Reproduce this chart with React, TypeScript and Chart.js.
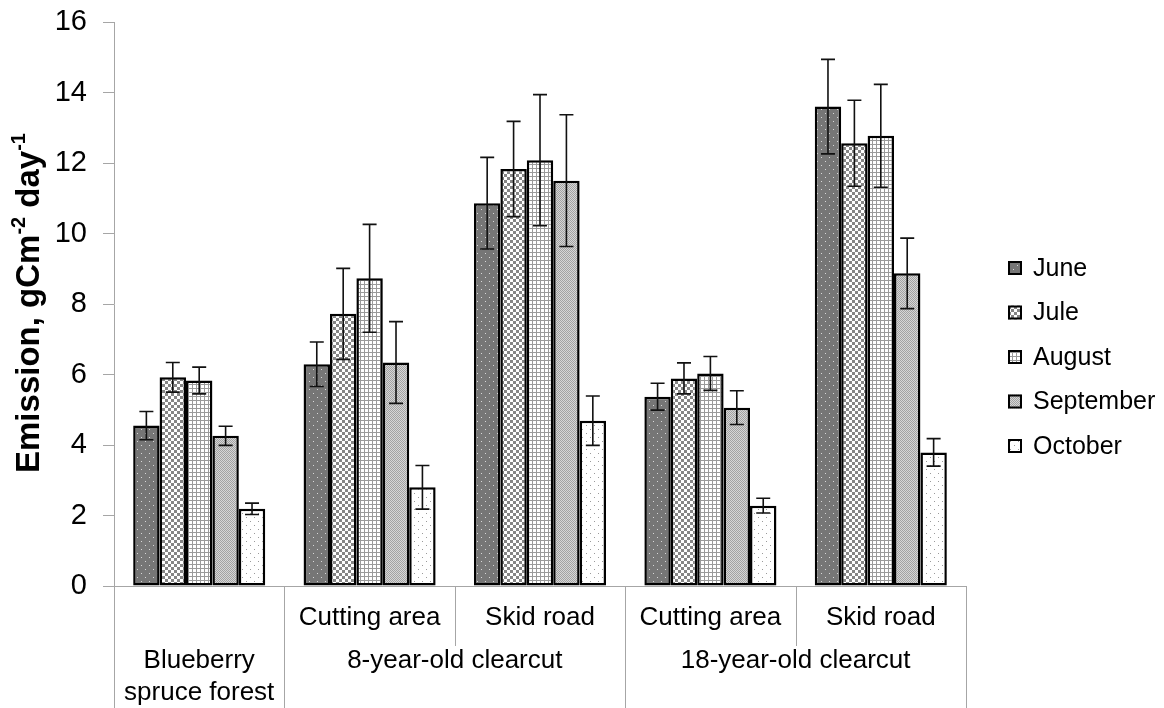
import React, { useEffect, useRef } from "react";
import { Chart, registerables } from "chart.js";
Chart.register(...registerables);

const categories = ["Blueberry spruce forest", "8y Cutting area", "8y Skid road", "18y Cutting area", "18y Skid road"];
const subLabels = ["", "Cutting area", "Skid road", "Cutting area", "Skid road"];
const groupNames = [["Blueberry", "spruce forest"], ["8-year-old clearcut"], ["18-year-old clearcut"]];
const groupFrom = [0, 1, 3];
const groupTo = [0, 2, 4];
const months = ["June", "Jule", "August", "September", "October"];
const juneValues = [4.55, 6.29, 10.86, 5.37, 13.6];
const juneErrors = [0.4, 0.63, 1.3, 0.38, 1.34];
const juleValues = [5.92, 7.72, 11.83, 5.89, 12.56];
const juleErrors = [0.42, 1.29, 1.35, 0.44, 1.22];
const augustValues = [5.83, 8.73, 12.08, 6.03, 12.77];
const augustErrors = [0.38, 1.53, 1.86, 0.48, 1.46];
const septemberValues = [4.26, 6.34, 11.5, 5.06, 8.87];
const septemberErrors = [0.27, 1.16, 1.87, 0.48, 1.0];
const octoberValues = [2.19, 2.8, 4.69, 2.28, 3.79];
const octoberErrors = [0.16, 0.62, 0.7, 0.21, 0.39];
const yMin = 0;
const yMax = 16;
const yStep = 2;

const FONT = "'Liberation Sans', Arial, sans-serif";

function makePattern(kind: string): CanvasPattern | string {
  const c = document.createElement("canvas");
  const ctx = c.getContext("2d")!;
  if (kind === "june") {
    c.width = 8; c.height = 8;
    ctx.fillStyle = "#767676"; ctx.fillRect(0, 0, 8, 8);
    ctx.fillStyle = "#d8d8d8";
    ctx.fillRect(1, 1, 1, 1); ctx.fillRect(5, 5, 1, 1);
  } else if (kind === "jule") {
    c.width = 6; c.height = 6;
    ctx.fillStyle = "#ffffff"; ctx.fillRect(0, 0, 6, 6);
    ctx.fillStyle = "#858585";
    ctx.fillRect(0, 0, 3, 3); ctx.fillRect(3, 3, 3, 3);
  } else if (kind === "august") {
    c.width = 4; c.height = 4;
    ctx.fillStyle = "#ffffff"; ctx.fillRect(0, 0, 4, 4);
    ctx.fillStyle = "#9a9a9a";
    ctx.fillRect(0, 0, 4, 1); ctx.fillRect(0, 0, 1, 4);
  } else if (kind === "september") {
    c.width = 2; c.height = 2;
    ctx.fillStyle = "#d6d6d6"; ctx.fillRect(0, 0, 2, 2);
    ctx.fillStyle = "#a2a2a2";
    ctx.fillRect(0, 0, 1, 1); ctx.fillRect(1, 1, 1, 1);
  } else {
    c.width = 8; c.height = 8;
    ctx.fillStyle = "#ffffff"; ctx.fillRect(0, 0, 8, 8);
    ctx.fillStyle = "#9a9a9a";
    ctx.fillRect(2, 1, 1, 1); ctx.fillRect(6, 5, 1, 1);
  }
  const p = ctx.createPattern(c, "repeat");
  return p || "#888";
}

export default function App() {
  const ref = useRef<HTMLCanvasElement | null>(null);
  useEffect(() => {
    if (!ref.current) return;
    const patterns = ["june", "jule", "august", "september", "october"].map(makePattern);
    const values = [juneValues, juleValues, augustValues, septemberValues, octoberValues];
    const errors = [juneErrors, juleErrors, augustErrors, septemberErrors, octoberErrors];

    const customPlugin = {
      id: "custom",
      beforeDatasetsDraw(chart: any) {
        const ctx = chart.ctx;
        const x = chart.scales.x;
        const y = chart.scales.y;
        const base = Math.round(y.getPixelForValue(0)) + 0.5;
        ctx.save();
        ctx.strokeStyle = "#a6a6a6";
        ctx.lineWidth = 1;
        ctx.beginPath();
        ctx.moveTo(x.left, base);
        ctx.lineTo(x.right, base);
        ctx.stroke();
        ctx.restore();
      },
      afterDatasetsDraw(chart: any) {
        const ctx = chart.ctx;
        const y = chart.scales.y;
        ctx.save();
        ctx.strokeStyle = "#111";
        ctx.lineWidth = 1.6;
        chart.data.datasets.forEach((ds: any, di: number) => {
          const meta = chart.getDatasetMeta(di);
          meta.data.forEach((el: any, i: number) => {
            const v = values[di][i];
            const e = errors[di][i];
            const yt = y.getPixelForValue(v + e);
            const yb = y.getPixelForValue(v - e);
            const cx = el.x;
            ctx.beginPath();
            ctx.moveTo(cx, yt); ctx.lineTo(cx, yb);
            ctx.moveTo(cx - 7, yt); ctx.lineTo(cx + 7, yt);
            ctx.moveTo(cx - 7, yb); ctx.lineTo(cx + 7, yb);
            ctx.stroke();
          });
        });
        ctx.restore();
      },
      afterDraw(chart: any) {
        const ctx = chart.ctx;
        const x = chart.scales.x;
        const y = chart.scales.y;
        const base = Math.round(y.getPixelForValue(0));
        const n = categories.length;
        const w = (x.right - x.left) / n;
        ctx.save();
        ctx.strokeStyle = "#a6a6a6";
        ctx.lineWidth = 1;
        for (let k = 0; k <= n; k++) {
          const xx = Math.round(x.left + k * w) + 0.5;
          let inside = false;
          for (let g = 0; g < groupFrom.length; g++) {
            if (k > groupFrom[g] && k <= groupTo[g]) inside = true;
          }
          ctx.beginPath();
          ctx.moveTo(xx, base);
          ctx.lineTo(xx, inside ? base + 60 : 708);
          ctx.stroke();
        }
        ctx.fillStyle = "#000";
        ctx.font = `26px ${FONT}`;
        ctx.textAlign = "center";
        ctx.textBaseline = "middle";
        subLabels.forEach((s, i) => {
          if (s) ctx.fillText(s, x.left + (i + 0.5) * w, 618);
        });
        groupNames.forEach((lines, g) => {
          const cx = x.left + ((groupFrom[g] + groupTo[g] + 1) / 2) * w;
          lines.forEach((ln, li) => ctx.fillText(ln, cx, 661 + li * 32));
        });
        // legend
        ctx.textAlign = "left";
        ctx.font = `25px ${FONT}`;
        months.forEach((m, i) => {
          const cy = 268 + i * 44.5;
          ctx.fillStyle = patterns[i] as any;
          ctx.fillRect(1008, cy - 7, 14, 14);
          ctx.strokeStyle = "#000";
          ctx.lineWidth = 2;
          ctx.strokeRect(1009, cy - 6, 12, 12);
          ctx.fillStyle = "#000";
          ctx.fillText(m, 1033, cy + 1);
        });
        // y title
        ctx.translate(27, 303);
        ctx.rotate(-Math.PI / 2);
        const big = `bold 33px ${FONT}`;
        const small = `bold 20px ${FONT}`;
        const parts: [string, boolean][] = [["Emission, gCm", false], ["-2", true], [" day", false], ["-1", true]];
        let total = 0;
        parts.forEach(([t, sup]) => { ctx.font = sup ? small : big; total += ctx.measureText(t).width; });
        let px = -total / 2;
        ctx.textBaseline = "alphabetic";
        parts.forEach(([t, sup]) => {
          ctx.font = sup ? small : big;
          ctx.fillText(t, px, sup ? -2 : 12);
          px += ctx.measureText(t).width;
        });
        ctx.restore();
      },
    };

    const chart = new Chart(ref.current, {
      type: "bar",
      data: {
        labels: categories,
        datasets: months.map((m, i) => ({
          label: m,
          data: values[i],
          backgroundColor: patterns[i] as any,
          borderColor: "#000",
          borderWidth: 2.5,
          borderSkipped: false,
          categoryPercentage: 0.775,
          barPercentage: 1,
        })),
      },
      options: {
        responsive: false,
        animation: false,
        devicePixelRatio: 1,
        layout: { padding: { top: 22, right: 198, bottom: 122, left: 0 } },
        plugins: { legend: { display: false }, tooltip: { enabled: false } },
        scales: {
          x: { display: false },
          y: {
            min: yMin,
            max: yMax,
            ticks: { stepSize: yStep, color: "#000", font: { family: FONT, size: 29 }, padding: 16 },
            grid: { drawOnChartArea: false, drawTicks: true, tickLength: 11, color: "#a6a6a6" },
            border: { color: "#a6a6a6" },
            afterFit: (s: any) => { s.width = 114; s.paddingTop = 0; s.paddingBottom = 0; },
          },
        },
      },
      plugins: [customPlugin],
    });
    return () => chart.destroy();
  }, []);
  return (
    <div style={{ position: "fixed", left: 0, top: 0, width: 1164, height: 708, background: "#fff" }}>
      <canvas ref={ref} width={1164} height={708} />
    </div>
  );
}
